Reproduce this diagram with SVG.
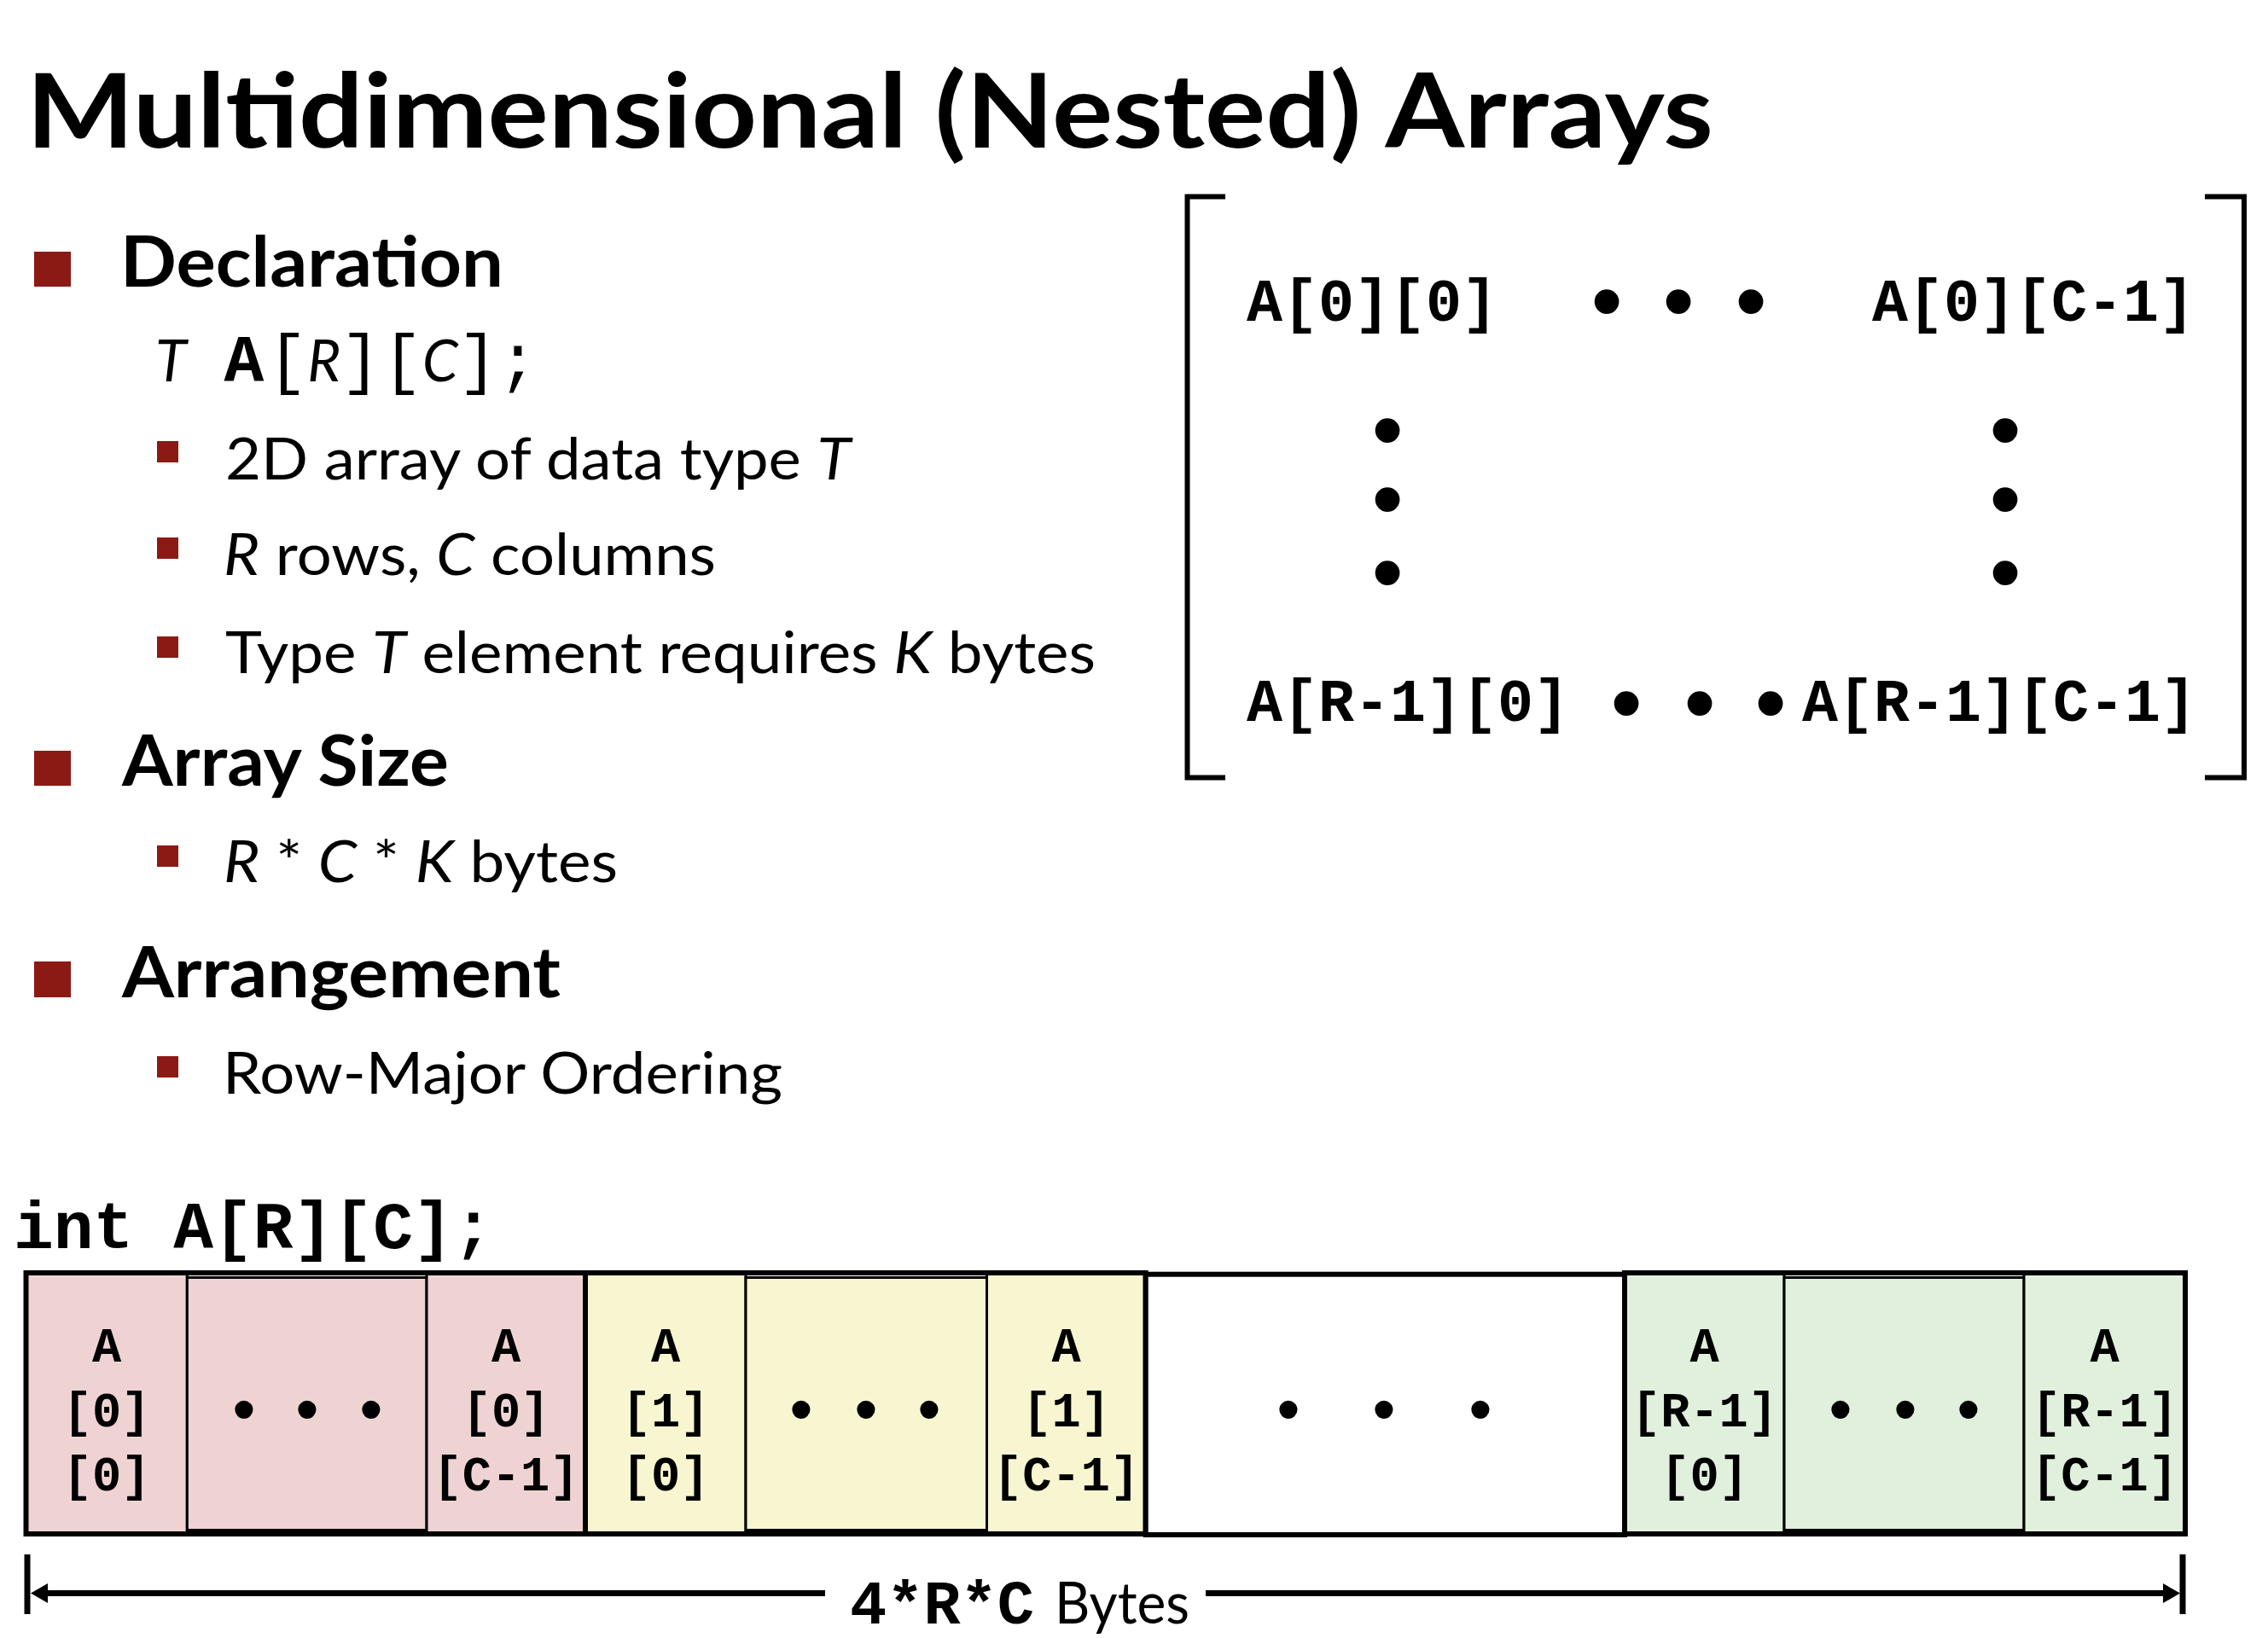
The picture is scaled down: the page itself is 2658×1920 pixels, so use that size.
<svg xmlns="http://www.w3.org/2000/svg" width="2658" height="1920" viewBox="0 0 2658 1920">
  <style>
    .title { font-family: Lato, "Open Sans", sans-serif; font-weight: 700; font-size: 121px; fill: #000; }
    .head { font-family: Lato, "Open Sans", sans-serif; font-weight: 700; font-size: 82px; fill: #000; }
    .sub { font-family: Lato, "Open Sans", sans-serif; font-weight: 400; font-size: 67px; fill: #000; }
    .it { font-style: italic; }
    .mono { font-family: "Liberation Mono", "Courier New", monospace; font-weight: 400; }
    .code { font-family: "Liberation Mono", "Courier New", monospace; font-weight: 700; fill: #000; }
    .mat { font-size: 70px; }
    .cell { font-size: 57px; text-anchor: middle; }
    .dotL { font-family: "Liberation Sans", Arial, sans-serif; font-size: 106px; text-anchor: middle; fill: #000; }
    .dotS { font-family: "Liberation Sans", Arial, sans-serif; font-size: 78px; text-anchor: middle; fill: #000; }
    .bul { fill: #8B1A14; }
    .brk { fill: none; stroke: #000; stroke-width: 6; stroke-linecap: butt; stroke-linejoin: miter; }
    .pink { fill: #EFD3D3; }
    .yel { fill: #F8F6D0; }
    .grn { fill: #E0F0DC; }
    .cbox { stroke: #000; stroke-width: 3; }
    .gbox { fill: none; stroke: #000; stroke-width: 6; }
    .dim { stroke: #000; stroke-width: 7; fill: none; }
  </style>
  <defs>
    <marker id="arrow" viewBox="0 0 20 23" refX="2" refY="11.5" markerWidth="20" markerHeight="23" markerUnits="userSpaceOnUse" orient="auto">
      <path d="M0,0 L20,11.5 L0,23 z" fill="#000"/>
    </marker>
  </defs>

  <rect width="2658" height="1920" fill="#fff"/>

  <!-- heading -->
  <text id="title" class="title" x="31" y="173" textLength="1977" lengthAdjust="spacingAndGlyphs">Multidimensional (Nested) Arrays</text>

  <!-- bullet list -->
  <g id="bullets">
    <rect class="bul" x="40" y="295" width="43" height="41"/>
    <text class="head" x="141" y="336" textLength="449" lengthAdjust="spacingAndGlyphs">Declaration</text>

    <!-- declaration syntax: type, name and the two bounds -->
    <text x="182" y="447" font-size="78"><tspan class="sub it" font-size="68">T</tspan><tspan class="code" dx="44">A</tspan><tspan class="mono" dx="4">[</tspan><tspan class="sub it" font-size="68">R</tspan><tspan class="mono">]</tspan><tspan class="mono" dx="2">[</tspan><tspan class="sub it" font-size="68">C</tspan><tspan class="mono">]</tspan><tspan class="mono">;</tspan></text>

    <rect class="bul" x="184" y="517" width="25" height="25"/>
    <text class="sub" x="264" y="562" textLength="733" lengthAdjust="spacingAndGlyphs">2D array of data type <tspan class="it">T</tspan></text>

    <rect class="bul" x="184" y="630" width="25" height="25"/>
    <text class="sub" x="262" y="674" textLength="577" lengthAdjust="spacingAndGlyphs"><tspan class="it">R</tspan> rows, <tspan class="it">C</tspan> columns</text>

    <rect class="bul" x="184" y="746" width="25" height="25"/>
    <text class="sub" x="264" y="789" textLength="1020" lengthAdjust="spacingAndGlyphs">Type <tspan class="it">T</tspan> element requires <tspan class="it">K</tspan> bytes</text>

    <rect class="bul" x="40" y="880" width="43" height="41"/>
    <text class="head" x="143" y="921" textLength="383" lengthAdjust="spacingAndGlyphs">Array Size</text>

    <rect class="bul" x="184" y="991" width="25" height="25"/>
    <text class="sub" x="262" y="1034" textLength="462" lengthAdjust="spacingAndGlyphs"><tspan class="it">R</tspan> * <tspan class="it">C</tspan> * <tspan class="it">K</tspan> bytes</text>

    <rect class="bul" x="40" y="1127" width="43" height="42"/>
    <text class="head" x="143" y="1169" textLength="514" lengthAdjust="spacingAndGlyphs">Arrangement</text>

    <rect class="bul" x="184" y="1238" width="25" height="25"/>
    <text class="sub" x="261" y="1282" textLength="656" lengthAdjust="spacingAndGlyphs">Row-Major Ordering</text>
  </g>

  <!-- matrix view -->
  <g id="matrix">
    <polyline class="brk" points="1436,230.5 1391.5,230.5 1391.5,911.5 1436,911.5"/>
    <polyline class="brk" points="2584,230.5 2630,230.5 2630,911.5 2584,911.5"/>
    <text class="code mat" x="1461" y="376">A[0][0]</text>
    <text class="dotL" x="1883 1925 1967 2010 2052" y="389">• • •</text>
    <text class="code mat" x="2194" y="376">A[0][C-1]</text>
    <text class="dotL" x="1626 1626 1626" y="540 621 707">•••</text>
    <text class="dotL" x="2350 2350 2350" y="540 621 707">•••</text>
    <text class="code mat" x="1461" y="845">A[R-1][0]</text>
    <text class="dotL" x="1906 1949 1992 2034 2075" y="860">• • •</text>
    <text class="code mat" x="2112" y="845">A[R-1][C-1]</text>
  </g>

  <!-- memory layout -->
  <text id="decl" class="code" x="16" y="1463" font-size="78">int A[R][C];</text>

  <g id="row0">
    <g id="cell-0-0">
      <rect class="pink cbox" x="30.5" y="1492" width="188.8" height="306"/>
      <text class="code cell"><tspan x="125" y="1596">A</tspan><tspan x="125" y="1672">[0]</tspan><tspan x="125" y="1747">[0]</tspan></text>
    </g>
    <g id="cell-0-mid">
      <rect class="pink cbox" x="219.3" y="1497.5" width="280.7" height="296"/>
      <text class="dotS" x="286 323 360 398 435" y="1678">• • •</text>
    </g>
    <g id="cell-0-last">
      <rect class="pink cbox" x="500" y="1492" width="186" height="306"/>
      <text class="code cell"><tspan x="593" y="1596">A</tspan><tspan x="593" y="1672">[0]</tspan><tspan x="593" y="1747">[C-1]</tspan></text>
    </g>
    <rect class="gbox" x="30.5" y="1492" width="655.5" height="306"/>
  </g>

  <g id="row1">
    <g id="cell-1-0">
      <rect class="yel cbox" x="686" y="1492" width="188" height="306"/>
      <text class="code cell"><tspan x="780" y="1596">A</tspan><tspan x="780" y="1672">[1]</tspan><tspan x="780" y="1747">[0]</tspan></text>
    </g>
    <g id="cell-1-mid">
      <rect class="yel cbox" x="874" y="1497.5" width="282.5" height="296"/>
      <text class="dotS" x="939 977 1015 1052 1089" y="1678">• • •</text>
    </g>
    <g id="cell-1-last">
      <rect class="yel cbox" x="1156.5" y="1492" width="186.2" height="306"/>
      <text class="code cell"><tspan x="1249.6" y="1596">A</tspan><tspan x="1249.6" y="1672">[1]</tspan><tspan x="1249.6" y="1747">[C-1]</tspan></text>
    </g>
    <rect class="gbox" x="686" y="1492" width="656.7" height="306"/>
  </g>

  <g id="rows-between">
    <rect class="gbox" x="1342.7" y="1493.7" width="561.3" height="305.3" style="fill:#fff"/>
    <text class="dotS" x="1510 1566 1622 1678 1735" y="1678">• • •</text>
  </g>

  <g id="rowR">
    <g id="cell-R-0">
      <rect class="grn cbox" x="1904" y="1492" width="187" height="306"/>
      <text class="code cell"><tspan x="1997.5" y="1596">A</tspan><tspan x="1997.5" y="1672">[R-1]</tspan><tspan x="1997.5" y="1747">[0]</tspan></text>
    </g>
    <g id="cell-R-mid">
      <rect class="grn cbox" x="2091" y="1497.5" width="281" height="296"/>
      <text class="dotS" x="2157 2195 2233 2270 2307" y="1678">• • •</text>
    </g>
    <g id="cell-R-last">
      <rect class="grn cbox" x="2372" y="1492" width="189" height="306"/>
      <text class="code cell"><tspan x="2466.5" y="1596">A</tspan><tspan x="2466.5" y="1672">[R-1]</tspan><tspan x="2466.5" y="1747">[C-1]</tspan></text>
    </g>
    <rect class="gbox" x="1904" y="1492" width="657" height="306"/>
  </g>

  <!-- total size dimension line -->
  <g id="connectors">
    <line class="dim" x1="32" y1="1822" x2="32" y2="1892"/>
    <line class="dim" x1="2558" y1="1822" x2="2558" y2="1892"/>
    <line class="dim" x1="967" y1="1867.5" x2="54" y2="1867.5" marker-end="url(#arrow)"/>
    <line class="dim" x1="1413" y1="1867.5" x2="2537" y2="1867.5" marker-end="url(#arrow)"/>
    <text y="1903"><tspan class="code" x="996" font-size="72">4*R*C</tspan><tspan class="sub" x="1236" font-size="60" textLength="158" lengthAdjust="spacingAndGlyphs">Bytes</tspan></text>
  </g>
</svg>
